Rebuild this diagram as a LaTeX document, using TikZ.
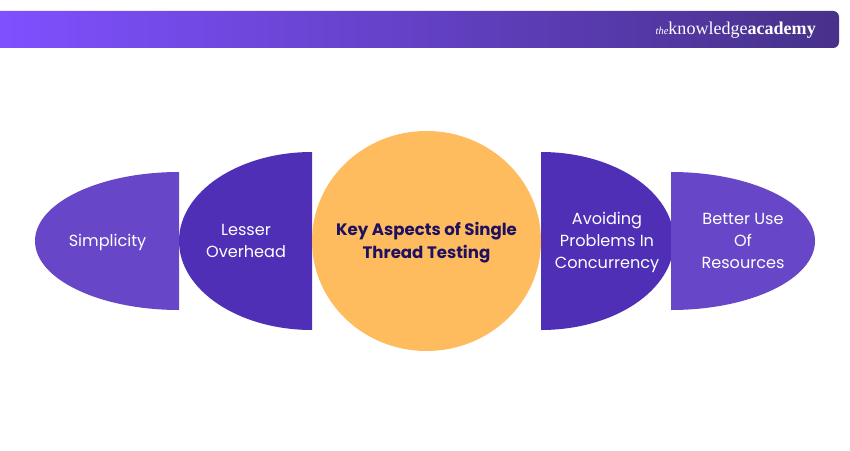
\documentclass[tikz,border=0pt]{standalone}
\usepackage{fontspec}
\setmainfont{Poppins}
\newfontfamily\logofont{Liberation Serif}
\definecolor{barleft}{HTML}{7F50FF}
\definecolor{barright}{HTML}{47318A}
\definecolor{darkpurple}{HTML}{4E2FB6}
\definecolor{lightpurple}{HTML}{6747C8}
\definecolor{keyorange}{HTML}{FFBC5E}
\definecolor{keytext}{HTML}{1F1060}
\begin{document}
\begin{tikzpicture}[x=0.03cm,y=0.03cm]
		\tikzstyle{every node}+=[inner sep=0pt,align=center]
		\tikzstyle{blobtext}=[text=white,font=\fontsize{13.75}{18.8}\selectfont]
		\useasboundingbox (0,0) rectangle (850,-450);
		% top bar
		\shade [left color=barleft,right color=barright] (0,-11) -- (833,-11) arc (90:0:6) -- (839,-42) arc (0:-90:6) -- (0,-48) -- cycle;
		\node (logo) [text=white,font=\logofont\fontsize{15.4}{18}\selectfont,anchor=east] at (816,-30.5) {{\fontsize{9}{9}\selectfont\itshape the}knowledge\textbf{academy}};
		% blobs
		\fill [lightpurple] (179,-172) arc (90:270:144 and 69) -- cycle;
		\fill [darkpurple] (312,-152) arc (90:270:133 and 89) -- cycle;
		\fill [darkpurple] (541,-152) arc (90:-90:133 and 89) -- cycle;
		\fill [lightpurple] (671,-172) arc (90:-90:144 and 69) -- cycle;
		\fill [keyorange] (426.5,-241) ellipse (114.5 and 110);
		% texts
		\node (simplicity) [blobtext] at (107.5,-242) {Simplicity};
		\node (overhead) [blobtext] at (246,-240.5) {Lesser\\Overhead};
		\node (key) [blobtext,text=keytext,font=\fontsize{14.15}{19.6}\selectfont\bfseries] at (426.5,-242.5) {Key Aspects of Single\\Thread Testing};
		\node (concurrency) [blobtext] at (607,-242.5) {Avoiding\\Problems In\\Concurrency};
		\node (resources) [blobtext] at (743,-240.5) {Better Use\\Of\\Resources};
		\end{tikzpicture}
\end{document}
